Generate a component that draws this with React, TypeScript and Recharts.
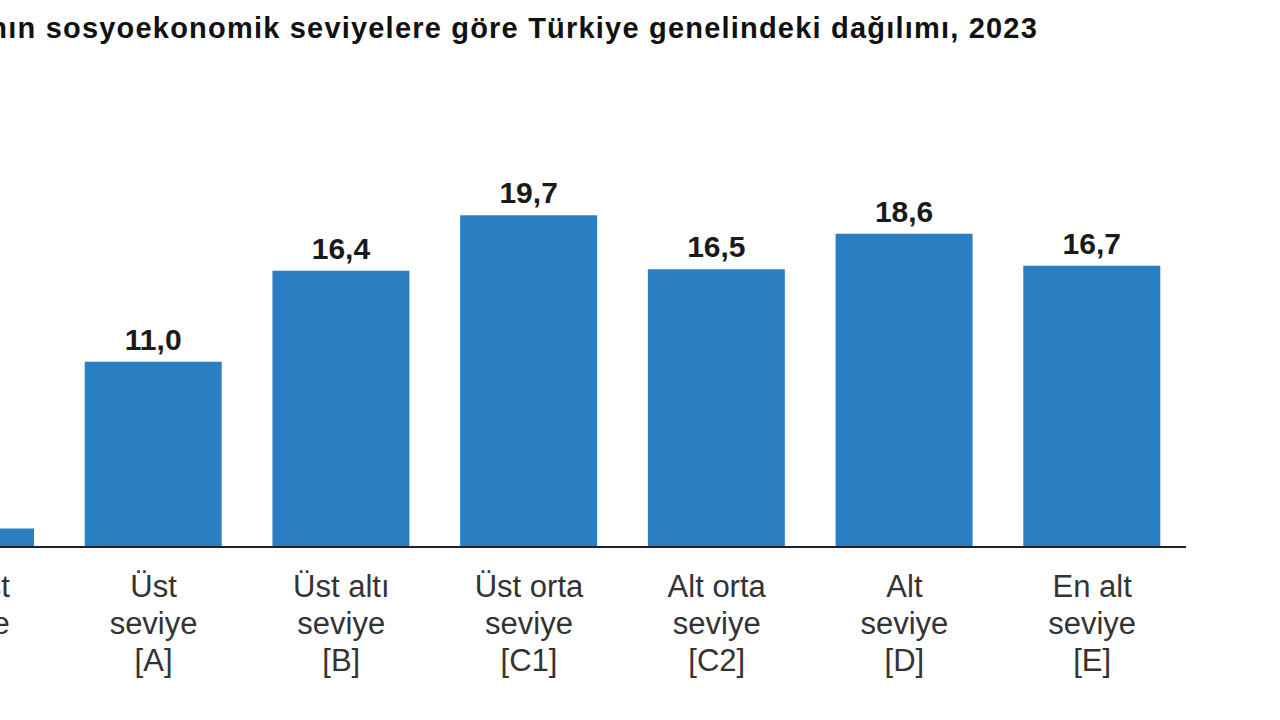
import React from 'react';
import { BarChart, Bar, XAxis, YAxis, LabelList } from 'recharts';

const titleText = 'Hanehalklarının sosyoekonomik seviyelere göre Türkiye genelindeki dağılımı, 2023';
const categories = [
  'En üst\nseviye\n[A+]',
  'Üst\nseviye\n[A]',
  'Üst altı\nseviye\n[B]',
  'Üst orta\nseviye\n[C1]',
  'Alt orta\nseviye\n[C2]',
  'Alt\nseviye\n[D]',
  'En alt\nseviye\n[E]',
];
const values = [1.1, 11.0, 16.4, 19.7, 16.5, 18.6, 16.7];

const data = categories.map((c, i) => ({ name: c, value: values[i] }));

const FONT = '"Liberation Sans", Arial, sans-serif';

const CategoryTick = (props: any) => {
  const { x, y, payload } = props;
  const lines = String(payload.value).split('\n');
  return (
    <g>
      {lines.map((ln: string, i: number) => (
        <text
          key={i}
          x={x}
          y={y + 42 + i * 37}
          textAnchor="middle"
          fontFamily={FONT}
          fontSize={31}
          fill="#333333"
        >
          {ln}
        </text>
      ))}
    </g>
  );
};

const ValueLabel = (props: any) => {
  const { x, y, width, value } = props;
  return (
    <text
      x={x + width / 2}
      y={y - 12}
      textAnchor="middle"
      fontFamily={FONT}
      fontSize={30}
      fontWeight="bold"
      fill="#1a1a1a"
    >
      {Number(value).toFixed(1).replace('.', ',')}
    </text>
  );
};

export default function App() {
  return (
    <div
      style={{
        position: 'absolute',
        left: 0,
        top: 0,
        width: 1280,
        height: 720,
        overflow: 'hidden',
        background: '#ffffff',
      }}
    >
      <svg
        width={1280}
        height={60}
        style={{ position: 'absolute', left: 0, top: 0 }}
      >
        <text
          x={1038}
          y={38}
          textAnchor="end"
          fontFamily={FONT}
          fontSize={29}
          fontWeight="bold"
          letterSpacing={1.2}
          fill="#111111"
        >
          {titleText}
        </text>
      </svg>
      <div style={{ position: 'absolute', left: -128, top: 0 }}>
        <BarChart
          width={1408}
          height={720}
          data={data}
          margin={{ top: 126, right: 94, bottom: 0, left: 0 }}
        >
          <YAxis hide domain={[0, 25]} />
          <XAxis
            dataKey="name"
            interval={0}
            height={173}
            tickLine={false}
            axisLine={{ stroke: '#1c2230', strokeWidth: 2 }}
            tick={<CategoryTick />}
          />
          <Bar dataKey="value" fill="#2a7fc3" barSize={137} isAnimationActive={false}>
            <LabelList dataKey="value" content={<ValueLabel />} />
          </Bar>
        </BarChart>
      </div>
    </div>
  );
}
